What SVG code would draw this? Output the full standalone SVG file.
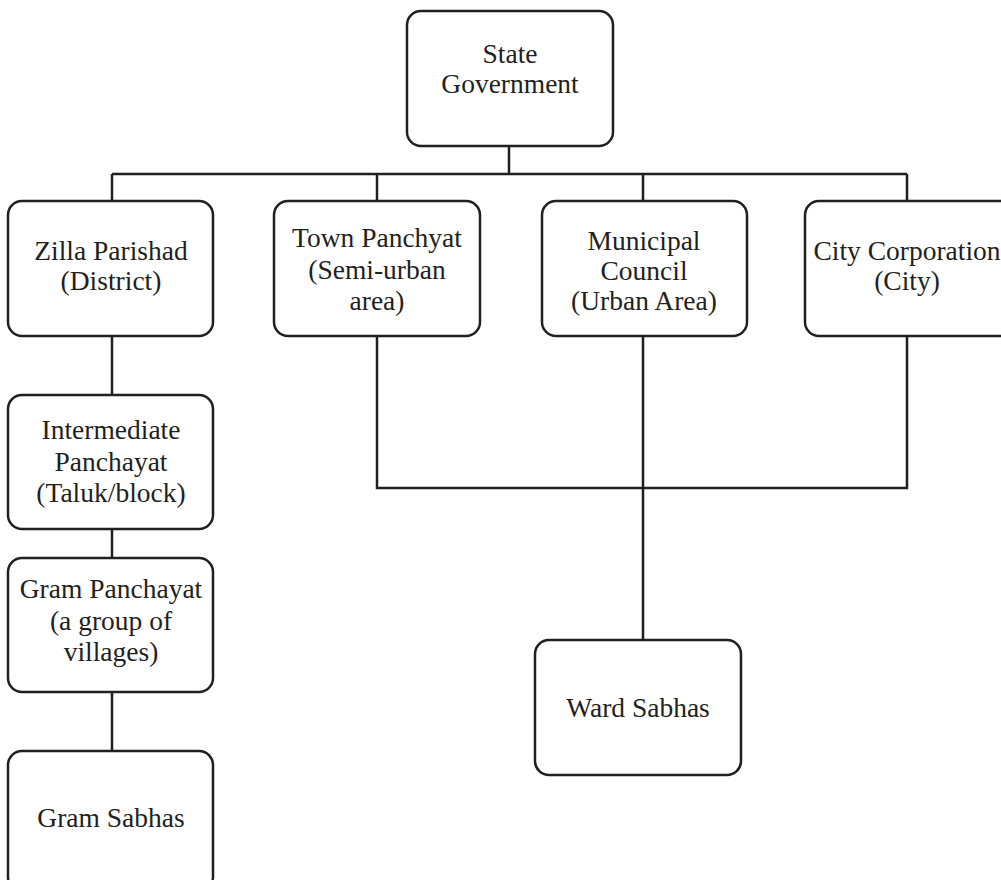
<svg xmlns="http://www.w3.org/2000/svg" width="1001" height="880" viewBox="0 0 1001 880">
<style>
.box{fill:#fff;stroke:#231f20;stroke-width:2.5}
.ln{fill:none;stroke:#231f20;stroke-width:2.5}
text{font-family:"Liberation Serif","DejaVu Serif",serif;font-size:27.5px;fill:#231f20;text-anchor:middle}
</style>
<rect width="1001" height="880" fill="#fff"/>
<g id="connectors">
<path class="ln" d="M509 146V174M112 174H907M112 174V201M377 174V201M643 174V201M907 174V201"/>
<path class="ln" d="M112 336V395M112 529V558M112 692V751"/>
<path class="ln" d="M377 336V488H907V336M643 336V640"/>
</g>
<g id="state"><rect class="box" x="407" y="11" width="206" height="135" rx="14"/><text x="510" y="63">State</text><text x="510" y="93">Government</text></g>
<g id="zilla"><rect class="box" x="8" y="201" width="205" height="135" rx="14"/><text x="111" y="260">Zilla Parishad</text><text x="111" y="290">(District)</text></g>
<g id="town"><rect class="box" x="274" y="201" width="206" height="135" rx="14"/><text x="377" y="247">Town Panchyat</text><text x="377" y="279">(Semi-urban</text><text x="377" y="310">area)</text></g>
<g id="municipal"><rect class="box" x="542" y="201" width="205" height="135" rx="14"/><text x="644" y="250">Municipal</text><text x="644" y="280">Council</text><text x="644" y="310">(Urban Area)</text></g>
<g id="city"><rect class="box" x="805" y="201" width="210" height="135" rx="14"/><text x="907" y="260">City Corporation</text><text x="907" y="290">(City)</text></g>
<g id="intermediate"><rect class="box" x="8" y="395" width="205" height="134" rx="14"/><text x="111" y="439">Intermediate</text><text x="111" y="471">Panchayat</text><text x="111" y="502">(Taluk/block)</text></g>
<g id="gram-panchayat"><rect class="box" x="8" y="558" width="205" height="134" rx="14"/><text x="111" y="598">Gram Panchayat</text><text x="111" y="630">(a group of</text><text x="111" y="661">villages)</text></g>
<g id="gram-sabhas"><rect class="box" x="8" y="751" width="205" height="140" rx="14"/><text x="111" y="827">Gram Sabhas</text></g>
<g id="ward-sabhas"><rect class="box" x="535" y="640" width="206" height="135" rx="14"/><text x="638" y="717">Ward Sabhas</text></g>
</svg>
